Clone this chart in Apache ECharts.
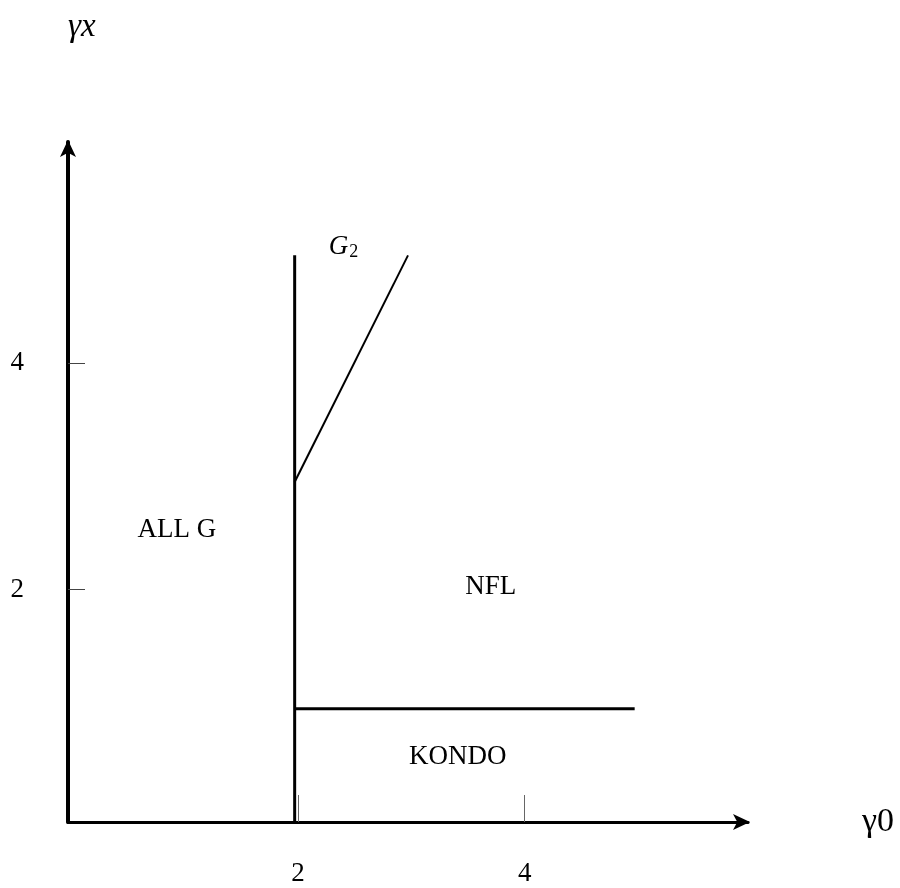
<!DOCTYPE html>
<html>
<head>
<meta charset="utf-8">
<script src="https://cdn.jsdelivr.net/npm/echarts@6/dist/echarts.min.js"></script>
<style>html,body{margin:0;padding:0;background:#fff}#c{width:900px;height:888px}</style>
</head>
<body>
<div id="c"></div>
<script>
// ---- data ----
const xTicks = [2, 4];
const yTicks = [2, 4];
const axisMax = 6;
const verticalBoundary = [[2, 0], [2, 5]];
const g2Boundary = [[2, 3], [3, 5]];
const kondoBoundary = [[2, 1], [5, 1]];
const regionNames = ['ALL G', 'NFL', 'KONDO', 'G2'];
const regionPoints = [[0.96, 2.58], [3.73, 2.07], [3.44, 0.57], [2.43, 5.07]];

// the reference draws its tick marks slightly shifted from the data grid
const xTickShift = 0.03;
const yTickShift = 0.05;

const FONT = 'Liberation Serif';
const chart = echarts.init(document.getElementById('c'));

const lineSeries = (data, w) => ({
  type: 'line', data: data, showSymbol: false, symbol: 'none', silent: true,
  lineStyle: { color: '#000', width: w }, z: 3
});

chart.setOption({
  animation: false,
  backgroundColor: '#fff',
  grid: { left: 68, top: 142, width: 680, height: 680 },
  xAxis: {
    type: 'value', min: 0, max: axisMax, interval: 2,
    name: 'γ0', nameLocation: 'end', nameGap: 114,
    nameTextStyle: { fontFamily: FONT, fontSize: 34, color: '#000', verticalAlign: 'middle', align: 'left' },
    axisLine: { show: true, onZero: false, symbol: ['none', 'arrow'], symbolSize: [12, 17], symbolOffset: [0, 2],
      lineStyle: { color: '#000', width: 3 } },
    axisTick: { show: true, inside: true, length: 27, customValues: xTicks.map(v => v + xTickShift),
      lineStyle: { color: '#666', width: 1 } },
    axisLabel: { show: true, customValues: xTicks.map(v => v + xTickShift), formatter: v => String(Math.round(v)),
      margin: 38, fontFamily: FONT, fontSize: 27, color: '#000' },
    splitLine: { show: false }
  },
  yAxis: {
    type: 'value', min: 0, max: axisMax, interval: 2,
    name: '{i|γx}', nameLocation: 'end', nameGap: 98,
    nameTextStyle: { align: 'left', verticalAlign: 'bottom',
      rich: { i: { fontFamily: FONT, fontStyle: 'italic', fontSize: 33, color: '#000' } } },
    axisLine: { show: true, onZero: false, symbol: ['none', 'arrow'], symbolSize: [12, 17], symbolOffset: [0, 2],
      lineStyle: { color: '#000', width: 4 } },
    axisTick: { show: true, inside: true, length: 17, customValues: yTicks.map(v => v + yTickShift),
      lineStyle: { color: '#444', width: 1 } },
    axisLabel: { show: true, customValues: yTicks.map(v => v + yTickShift), formatter: v => String(Math.round(v)),
      margin: 44, fontFamily: FONT, fontSize: 27, color: '#000' },
    splitLine: { show: false }
  },
  series: [
    lineSeries(verticalBoundary, 3),
    lineSeries(g2Boundary, 2),
    lineSeries(kondoBoundary, 3),
    {
      type: 'scatter', symbolSize: 0, silent: true,
      itemStyle: { opacity: 1 },
      data: regionNames.map((n, i) => ({ name: n, value: regionPoints[i] })),
      label: {
        show: true, position: 'inside', color: '#000', fontFamily: FONT, fontSize: 27,
        formatter: p => p.name === 'G2' ? '{g|G}{s|2}' : '{t|' + p.name + '}',
        rich: {
          t: { fontFamily: FONT, fontSize: 27, color: '#000' },
          g: { fontFamily: FONT, fontStyle: 'italic', fontSize: 27, color: '#000' },
          s: { fontFamily: FONT, fontSize: 18, color: '#000', padding: [10, 0, 0, 1] }
        }
      }
    }
  ]
});
</script>
</body>
</html>
